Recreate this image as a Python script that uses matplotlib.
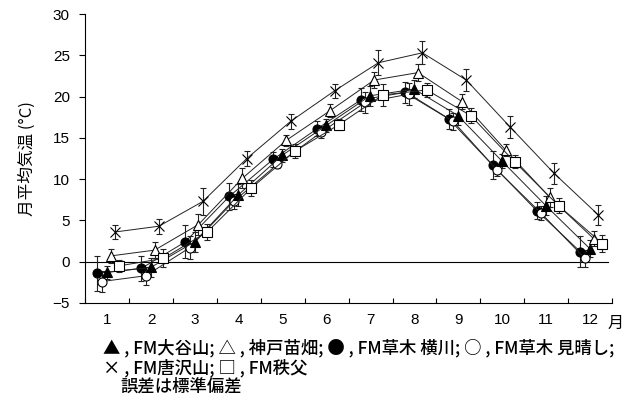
import matplotlib
matplotlib.use("Agg")
import matplotlib.pyplot as plt
import numpy as np

plt.rcParams["font.family"] = ["Liberation Sans", "DejaVu Sans"]
jp = ["Noto Sans CJK JP", "DejaVu Sans"]

months = np.arange(1, 13)
month_labels = [str(m) for m in months]

# mean monthly temperature and standard deviation per site
yokokawa = [-1.4, -0.8, 2.4, 7.9, 12.4, 16.1, 19.6, 20.5, 17.3, 11.7, 6.2, 1.2]
yokokawa_sd = [2.1, 1.5, 2.0, 1.6, 0.9, 0.9, 1.4, 1.3, 1.2, 1.7, 1.0, 1.9]
miharashi = [-2.4, -1.7, 1.7, 7.3, 11.8, 15.7, 19.3, 20.3, 17.0, 11.1, 5.9, 0.4]
miharashi_sd = [1.3, 1.1, 1.4, 0.9, 0.5, 0.75, 1.3, 1.3, 1.0, 0.7, 0.9, 1.0]
otaniyama = [-1.3, -0.7, 2.4, 8.1, 12.9, 16.5, 20.1, 20.9, 17.7, 12.2, 6.8, 1.6]
otaniyama_sd = [0.8, 1.2, 1.2, 1.3, 0.8, 0.8, 1.2, 1.1, 1.1, 0.8, 1.1, 1.0]
kobe = [0.7, 1.4, 4.5, 10.1, 14.7, 18.3, 22.0, 22.9, 19.4, 13.5, 7.8, 2.8]
kobe_sd = [0.85, 1.0, 1.3, 1.2, 0.7, 0.75, 1.0, 1.0, 0.95, 0.7, 1.15, 0.95]
karasawa = [3.6, 4.3, 7.3, 12.5, 17.0, 20.7, 24.1, 25.3, 22.0, 16.3, 10.7, 5.7]
karasawa_sd = [0.85, 0.9, 1.6, 0.9, 0.9, 0.85, 1.5, 1.4, 1.3, 1.35, 1.3, 1.2]
chichibu = [-0.5, 0.4, 3.6, 8.9, 13.4, 16.6, 20.2, 20.8, 17.7, 12.1, 6.8, 2.2]
chichibu_sd = [0.7, 1.1, 1.0, 1.0, 0.8, 0.7, 1.3, 0.8, 0.9, 0.8, 0.9, 1.0]

series = [
    (yokokawa, yokokawa_sd, "o", "black", -0.22),
    (miharashi, miharashi_sd, "o", "white", -0.12),
    (otaniyama, otaniyama_sd, "^", "black", -0.01),
    (kobe, kobe_sd, "^", "white", 0.08),
    (karasawa, karasawa_sd, "x", "black", 0.18),
    (chichibu, chichibu_sd, "s", "white", 0.28),
]

fig = plt.figure(figsize=(6.31, 4.0), dpi=100)
ax = fig.add_axes([0.135, 0.2425, 0.835, 0.7225])

ax.axhline(0, xmax=0.993, color="black", lw=0.8, zorder=1)

for vals, sd, mk, fc, off in series:
    ax.errorbar(months + off, vals, yerr=sd, fmt="-", color="#222222", lw=0.7,
                elinewidth=0.8, capsize=2.5, capthick=0.8, zorder=2,
                marker=mk, ms=6.5, mfc=fc, mec="black", mew=0.8)

ax.set_xlim(0.5, 12.5)
ax.set_ylim(-5, 30)
ax.set_yticks(np.arange(-5, 31, 5))
ax.set_xticks(np.arange(0.5, 12.6, 1))
ax.set_xticklabels([])
ax.set_xticks(months, minor=True)
ax.set_xticklabels(month_labels, minor=True)
ax.tick_params(axis="x", which="major", direction="in", length=3.5, width=0.8)
ax.tick_params(axis="x", which="minor", length=0, pad=7.5, labelsize=11)
ax.tick_params(axis="y", direction="out", length=4, width=0.8, labelsize=11, pad=7)
for s in ["top", "right"]:
    ax.spines[s].set_visible(False)
for s in ["left", "bottom"]:
    ax.spines[s].set_linewidth(0.8)

ax.set_ylabel("月平均気温 (°C)", family=jp, fontsize=12, labelpad=12)

ax.annotate("月", xy=(12.57, 0), xycoords=ax.get_xaxis_transform(),
            xytext=(0, -14.5), textcoords="offset points",
            family=jp, fontsize=11.5, ha="center", va="center")

legend_lines = [
    "▲ , FM大谷山; △ , 神戸苗畑; ● , FM草木 横川; ○ , FM草木 見晴し;",
    "× , FM唐沢山; □ , FM秩父",
    "誤差は標準偏差",
]
xs = [103, 103, 120]
ys = [348, 368, 387]
for line, x, y in zip(legend_lines, xs, ys):
    fig.text(x / 631, 1 - y / 400, line, family=jp, fontsize=12.5,
             fontweight="medium", ha="left", va="center")

fig.savefig("out.png", dpi=100)
